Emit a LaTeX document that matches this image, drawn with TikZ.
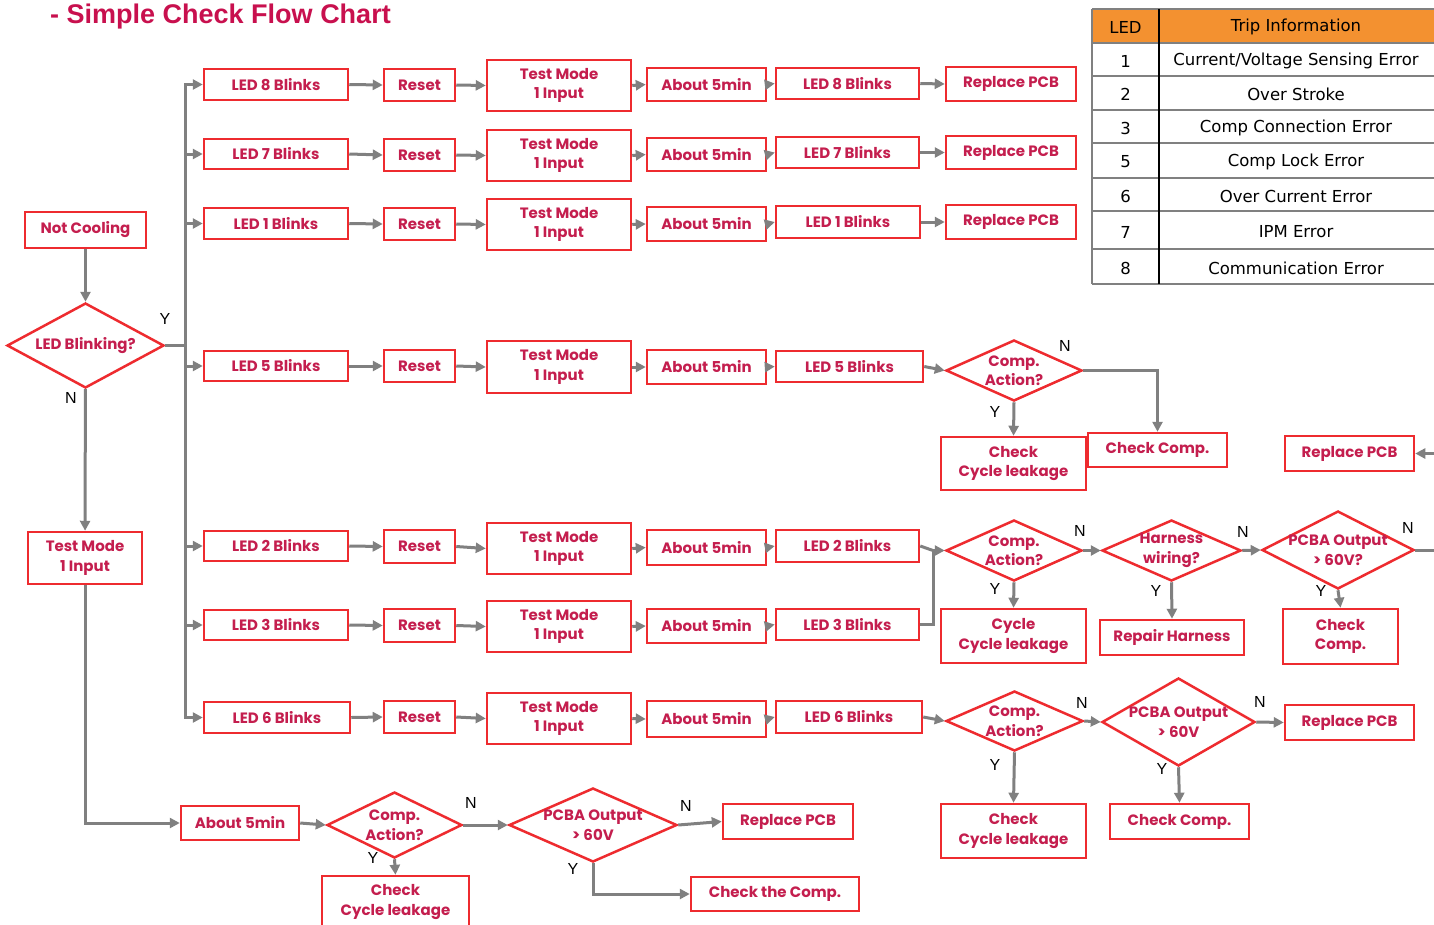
\documentclass[tikz,border=0pt]{standalone}
\usepackage{fontspec}
\setmainfont{Liberation Sans}
\newfontfamily\boxfont{Poppins}
\newfontfamily\tabfont{DejaVu Sans}
\usetikzlibrary{shapes.geometric,arrows.meta}
\definecolor{bred}{HTML}{EE2B2F}
\definecolor{tred}{HTML}{C41E4E}
\definecolor{lgray}{HTML}{808080}
\definecolor{torange}{HTML}{F39130}
\definecolor{ttl}{HTML}{C8104E}
\begin{document}
\begin{tikzpicture}[x=1pt,y=-1pt,
  bfont/.style={font=\boxfont\bfseries\fontsize{15}{19.5}\selectfont},
  box/.style={draw=bred, line width=2.5pt, text=tred, bfont, align=center, inner sep=0pt},
  sz/.style 2 args={minimum width=#1pt, minimum height=#2pt},
  dia/.style={diamond, draw=bred, line width=2.5pt, inner sep=0pt},
  dtext/.style={text=tred, bfont, align=center, inner sep=0pt},
  con/.style={draw=lgray, line width=3pt},
  arr/.style={con, -{Triangle[length=10pt,width=10pt]}},
  yn/.style={font=\fontsize{16}{16}\selectfont, text=black, inner sep=0pt},
  tab/.style={font=\tabfont\fontsize{16.5}{16.5}\selectfont, text=black, inner sep=0pt}
]
\useasboundingbox (0,0) rectangle (1434,924);
\fill[white] (0,0) rectangle (1434,924);

% title
\node[font=\bfseries\fontsize{27}{27}\selectfont, text=ttl, anchor=base west, inner sep=0pt] (title) at (50,23) {- Simple Check Flow Chart};

% table
\fill[torange] (1092,9) rectangle (1434,42.5);
\foreach \yy in {9,42.5,76,110,143,178,211,249,284}
  \draw[lgray, line width=2pt] (1092,\yy) -- (1434,\yy);
\draw[lgray, line width=2pt] (1092,9) -- (1092,284);
\draw[black, line width=2.5pt] (1159,9) -- (1159,284);
\node[tab] (th1) at (1125.5,27) {LED};
\node[tab] (th2) at (1296,27) {Trip Information};
\node[tab] (ta1) at (1125.5,61) {1};
\node[tab] (tb1) at (1296,61) {Current/Voltage Sensing Error};
\node[tab] (ta2) at (1125.5,94) {2};
\node[tab] (tb2) at (1296,94) {Over Stroke};
\node[tab] (ta3) at (1125.5,128) {3};
\node[tab] (tb3) at (1296,128) {Comp Connection Error};
\node[tab] (ta5) at (1125.5,162) {5};
\node[tab] (tb5) at (1296,162) {Comp Lock Error};
\node[tab] (ta6) at (1125.5,196) {6};
\node[tab] (tb6) at (1296,196) {Over Current Error};
\node[tab] (ta7) at (1125.5,232) {7};
\node[tab] (tb7) at (1296,232) {IPM Error};
\node[tab] (ta8) at (1125.5,268) {8};
\node[tab] (tb8) at (1296,268) {Communication Error};

% left column
\node[box, sz={121}{36}] (nc) at (85.5,230) {Not Cooling};
\node[dia, minimum width=157pt, minimum height=85pt] (lb) at (85.5,345.5) {};
\node[dtext] (lbt) at (lb) {LED Blinking?};
\node[box, sz={114}{52}] (tl) at (85,558) {Test Mode\\1 Input};

% row 8
\node[box, sz={144}{31}] (l8a) at (276,84.5) {LED 8 Blinks};
\node[box, sz={71}{32}] (r8) at (419.5,85) {Reset};
\node[box, sz={144}{51}] (t8) at (559,85.5) {Test Mode\\1 Input};
\node[box, sz={119}{33}] (m8) at (706.5,84.5) {About 5min};
\node[box, sz={143}{31}] (l8b) at (847.5,83.5) {LED 8 Blinks};
\node[box, sz={130}{34}] (p8) at (1011,84) {Replace PCB};
% row 7
\node[box, sz={144}{30}] (l7a) at (276,154) {LED 7 Blinks};
\node[box, sz={71}{32}] (r7) at (419.5,155) {Reset};
\node[box, sz={144}{51}] (t7) at (559,155.5) {Test Mode\\1 Input};
\node[box, sz={119}{33}] (m7) at (706.5,154.5) {About 5min};
\node[box, sz={143}{31}] (l7b) at (847.5,152.5) {LED 7 Blinks};
\node[box, sz={130}{33}] (p7) at (1011,152.5) {Replace PCB};
% row 1
\node[box, sz={144}{31}] (l1a) at (276,223.5) {LED 1 Blinks};
\node[box, sz={71}{32}] (r1) at (419.5,224) {Reset};
\node[box, sz={144}{51}] (t1) at (559,224.5) {Test Mode\\1 Input};
\node[box, sz={119}{34}] (m1) at (706.5,224) {About 5min};
\node[box, sz={144}{32}] (l1b) at (848,222) {LED 1 Blinks};
\node[box, sz={130}{34}] (p1) at (1011,222) {Replace PCB};
% row 5
\node[box, sz={144}{30}] (l5a) at (276,366) {LED 5 Blinks};
\node[box, sz={71}{32}] (r5) at (419.5,366) {Reset};
\node[box, sz={144}{52}] (t5) at (559,367) {Test Mode\\1 Input};
\node[box, sz={119}{34}] (m5) at (706.5,367) {About 5min};
\node[box, sz={147}{31}] (l5b) at (849.5,366.5) {LED 5 Blinks};
\node[dia, minimum width=136pt, minimum height=61pt] (c5) at (1014,370.5) {};
\node[dtext] (c5t) at (c5) {Comp.\\Action?};
\node[box, sz={145}{53}] (k5) at (1013.5,463.5) {Check\\Cycle leakage};
\node[box, sz={139}{34}] (cc5) at (1157.5,450) {Check Comp.};
\node[box, sz={129}{35}] (rp5) at (1349.5,453.5) {Replace PCB};
% row 2
\node[box, sz={144}{30}] (l2a) at (276,546) {LED 2 Blinks};
\node[box, sz={71}{33}] (r2) at (419.5,546.5) {Reset};
\node[box, sz={144}{51}] (t2) at (559,548.5) {Test Mode\\1 Input};
\node[box, sz={119}{35}] (m2) at (706.5,547.5) {About 5min};
\node[box, sz={143}{32}] (l2b) at (847.5,546) {LED 2 Blinks};
\node[dia, minimum width=136pt, minimum height=61pt] (c2) at (1014,550.5) {};
\node[dtext] (c2t) at (c2) {Comp.\\Action?};
\node[dia, minimum width=139pt, minimum height=61pt] (h2) at (1171.5,550.5) {};
\node[dtext] (h2t) at (h2) {Harness\\wiring?};
\node[dia, minimum width=152pt, minimum height=78pt] (pc2) at (1338,550) {};
\node[dtext] (pc2t) at (pc2) {PCBA Output\\> 60V?};
\node[box, sz={145}{54}] (k2) at (1013.5,636) {Cycle\\Cycle leakage};
\node[box, sz={144}{35}] (rh2) at (1172,637.5) {Repair Harness};
\node[box, sz={115}{55}] (ck2) at (1340.5,636.5) {Check\\Comp.};
% row 3
\node[box, sz={144}{30}] (l3a) at (276,625) {LED 3 Blinks};
\node[box, sz={71}{33}] (r3) at (419.5,625.5) {Reset};
\node[box, sz={144}{51}] (t3) at (559,626.5) {Test Mode\\1 Input};
\node[box, sz={119}{34}] (m3) at (706.5,626) {About 5min};
\node[box, sz={143}{31}] (l3b) at (847.5,624.5) {LED 3 Blinks};
% row 6
\node[box, sz={146}{31}] (l6a) at (277,717.5) {LED 6 Blinks};
\node[box, sz={71}{32}] (r6) at (419.5,717) {Reset};
\node[box, sz={144}{51}] (t6) at (559,718.5) {Test Mode\\1 Input};
\node[box, sz={119}{36}] (m6) at (706.5,719) {About 5min};
\node[box, sz={146}{32}] (l6b) at (849,717) {LED 6 Blinks};
\node[dia, minimum width=137pt, minimum height=60pt] (c6) at (1014.5,721) {};
\node[dtext] (c6t) at (c6) {Comp.\\Action?};
\node[dia, minimum width=153pt, minimum height=88pt] (pc6) at (1178.5,722) {};
\node[dtext] (pc6t) at (pc6) {PCBA Output\\> 60V};
\node[box, sz={129}{35}] (rp6) at (1349.5,722.5) {Replace PCB};
\node[box, sz={145}{54}] (k6) at (1013.5,831) {Check\\Cycle leakage};
\node[box, sz={139}{35}] (cc6) at (1179.5,821.5) {Check Comp.};
% bottom row
\node[box, sz={118}{34}] (mb) at (240,823) {About 5min};
\node[dia, minimum width=135pt, minimum height=66pt] (cb) at (394.5,825) {};
\node[dtext] (cbt) at (cb) {Comp.\\Action?};
\node[dia, minimum width=168pt, minimum height=74pt] (pb) at (593,825) {};
\node[dtext] (pbt) at (pb) {PCBA Output\\> 60V};
\node[box, sz={130}{35}] (rpb) at (788,821.5) {Replace PCB};
\node[box, sz={147}{52}] (kb) at (395.5,902) {Check\\Cycle leakage};
\node[box, sz={168}{34}] (ctc) at (775,894) {Check the Comp.};

% connectors left
\draw[arr] (nc) -- (lb);
\draw[arr] (lb) -- (tl);
\draw[arr] (tl.south) |- (mb.west);
\coordinate (bus) at (185,345.5);
\draw[con] (lb.east) -- (bus);
\foreach \n in {l8a,l7a,l1a,l5a,l2a,l3a,l6a}
  \draw[arr] (bus) |- (\n.west);

% row chains
\foreach \a/\b in {l8a/r8,r8/t8,t8/m8,m8/l8b,l8b/p8,
                   l7a/r7,r7/t7,t7/m7,m7/l7b,l7b/p7,
                   l1a/r1,r1/t1,t1/m1,m1/l1b,l1b/p1,
                   l5a/r5,r5/t5,t5/m5,m5/l5b,l5b/c5,
                   l2a/r2,r2/t2,t2/m2,m2/l2b,
                   l3a/r3,r3/t3,t3/m3,m3/l3b,
                   l6a/r6,r6/t6,t6/m6,m6/l6b,l6b/c6}
  \draw[arr] (\a.east) -- (\b.west);

% row 5 decisions
\draw[arr] (c5.south) -- (k5.north);
\draw[arr] (c5.east) -| (cc5.north);
\coordinate (edge5) at (1434,453.5);
\draw[arr] (edge5) -- (rp5.east);

% row 2/3 decisions
\coordinate (j23) at (933,550.5);
\draw[con] (l2b.east) -- (j23);
\draw[con] (l3b.east) -| (j23);
\draw[arr] (j23) -- (c2.west);
\draw[arr] (c2.east) -- (h2.west);
\draw[arr] (h2.east) -- (pc2.west);
\draw[arr] (c2.south) -- (k2.north);
\draw[arr] (h2.south) -- (rh2.north);
\draw[arr] (pc2.south) -- (ck2.north);
\coordinate (edge2) at (1434,550);
\draw[con] (pc2.east) -- (edge2);

% row 6 decisions
\draw[arr] (c6.east) -- (pc6.west);
\draw[arr] (pc6.east) -- (rp6.west);
\draw[arr] (c6.south) -- (k6.north);
\draw[arr] (pc6.south) -- (cc6.north);

% bottom decisions
\draw[arr] (mb.east) -- (cb.west);
\draw[arr] (cb.east) -- (pb.west);
\draw[arr] (pb.east) -- (rpb.west);
\draw[arr] (cb.south) -- (kb.north);
\draw[arr] (pb.south) |- (ctc.west);

% Y / N labels
\node[yn] (ylb) at (165,319) {Y};
\node[yn] (nlb) at (71,398) {N};
\node[yn] (nc5) at (1065,346) {N};
\node[yn] (yc5) at (995,412) {Y};
\node[yn] (nc2) at (1080,531) {N};
\node[yn] (yc2) at (995,589) {Y};
\node[yn] (nh2) at (1243,532) {N};
\node[yn] (yh2) at (1156,591) {Y};
\node[yn] (np2) at (1408,528) {N};
\node[yn] (yp2) at (1321,591) {Y};
\node[yn] (nc6) at (1082,703) {N};
\node[yn] (yc6) at (995,765) {Y};
\node[yn] (np6) at (1260,702) {N};
\node[yn] (yp6) at (1162,769) {Y};
\node[yn] (ncb) at (471,803) {N};
\node[yn] (ycb) at (373,858) {Y};
\node[yn] (npb) at (686,806) {N};
\node[yn] (ypb) at (573,869) {Y};
\end{tikzpicture}
\end{document}
